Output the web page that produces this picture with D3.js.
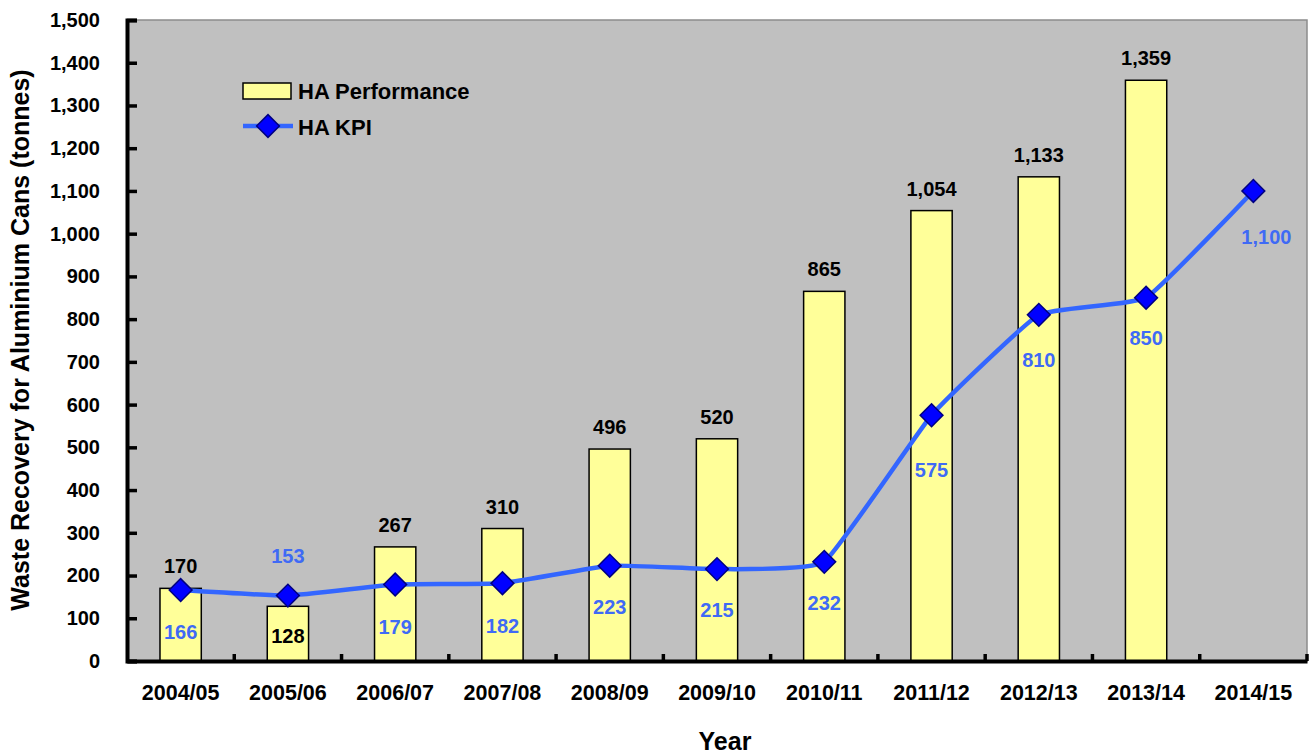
<!DOCTYPE html>
<html><head><meta charset="utf-8">
<script src="https://cdn.jsdelivr.net/npm/d3@7"></script>
<style>body{margin:0;background:#fff;} svg{display:block;font-family:"Liberation Sans",Arial,sans-serif;}</style>
</head><body>
<svg id="c" width="1312" height="754"></svg>
<script>
const years = ["2004/05","2005/06","2006/07","2007/08","2008/09","2009/10","2010/11","2011/12","2012/13","2013/14","2014/15"];
const performance = [170,128,267,310,496,520,865,1054,1133,1359,null];
const kpi = [166,153,179,182,223,215,232,575,810,850,1100];
const yTicks = [0,100,200,300,400,500,600,700,800,900,1000,1100,1200,1300,1400,1500];

const svg = d3.select("#c");
const m = {l:127, r:1307, t:20, b:661};
const x = d3.scaleBand().domain(years).range([m.l, m.r]).padding(0);
const y = d3.scaleLinear().domain([0,1500]).range([m.b, m.t]);
const fmt = d3.format(",");
const blue = "#3366ff";
const blueText = "#3f6af5";

// plot background
svg.append("rect").attr("x",m.l).attr("y",m.t).attr("width",m.r-m.l).attr("height",m.b-m.t)
  .attr("fill","#c0c0c0").attr("stroke","#8c8c8c").attr("stroke-width",1.5);

// bars
const bw = x.bandwidth()*0.385;
svg.append("g").selectAll("rect").data(years.map((d,i)=>({d,v:performance[i]})).filter(o=>o.v!=null))
  .join("rect")
  .attr("x",o=>x(o.d)+x.bandwidth()/2-bw/2).attr("width",bw)
  .attr("y",o=>y(o.v)).attr("height",o=>y(0)-y(o.v))
  .attr("fill","#ffff99").attr("stroke","#000").attr("stroke-width",1.5);

// y axis
const ya = d3.axisLeft(y).tickValues(yTicks).tickFormat(fmt).tickSize(-10).tickPadding(27);
const yg = svg.append("g").attr("transform",`translate(${m.l},0)`).call(ya);
yg.select(".domain").attr("stroke","#000").attr("stroke-width",4);
yg.selectAll(".tick line").attr("stroke","#000").attr("stroke-width",3.5);
yg.selectAll(".tick text").attr("font-size",20).attr("font-weight","bold").attr("fill","#000");

// x axis
const xa = d3.axisBottom(x).tickSize(0).tickPadding(24);
const xg = svg.append("g").attr("transform",`translate(0,${m.b})`).call(xa);
xg.select(".domain").attr("stroke","#000").attr("stroke-width",4);
xg.selectAll(".tick text").attr("font-size",21.5).attr("font-weight","bold").attr("fill","#000");
// boundary ticks (inward)
const bounds = years.map(d=>x(d)+x.bandwidth());
svg.append("g").selectAll("line").data(bounds).join("line")
  .attr("x1",d=>d).attr("x2",d=>d).attr("y1",m.b).attr("y2",m.b-7)
  .attr("stroke","#000").attr("stroke-width",3.5);

// KPI line
const cx = d=>x(d)+x.bandwidth()/2;
const line = d3.line().x((v,i)=>cx(years[i])).y(v=>y(v)).curve(d3.curveCardinal.tension(0.65));
svg.append("path").datum(kpi).attr("d",line).attr("fill","none").attr("stroke",blue).attr("stroke-width",4.5);

const diamond = d3.symbol().type(d3.symbolSquare).size(260);
svg.append("g").selectAll("path").data(kpi).join("path")
  .attr("d",diamond)
  .attr("transform",(v,i)=>`translate(${cx(years[i])},${y(v)}) rotate(45)`)
  .attr("fill","#0000ff").attr("stroke","#000080").attr("stroke-width",1.5);

// bar labels
const barLabelDy = {"2005/06": 52};
svg.append("g").selectAll("text").data(years.map((d,i)=>({d,v:performance[i]})).filter(o=>o.v!=null))
  .join("text")
  .attr("x",o=>cx(o.d)).attr("y",o=>y(o.v)-15+(barLabelDy[o.d]||0))
  .attr("text-anchor","middle").attr("font-size",20).attr("font-weight","bold").attr("fill","#000")
  .text(o=>fmt(o.v));

// KPI labels
const kpiDy = [49,-33,49,50,48,48,48,62,52,47,53];
const kpiDx = [0,0,0,0,0,0,0,0,0,0,13];
svg.append("g").selectAll("text").data(kpi).join("text")
  .attr("x",(v,i)=>cx(years[i])+kpiDx[i]).attr("y",(v,i)=>y(v)+kpiDy[i])
  .attr("text-anchor","middle").attr("font-size",20).attr("font-weight","bold").attr("fill",blueText)
  .text(v=>fmt(v));

// legend
const lg = svg.append("g");
lg.append("rect").attr("x",243).attr("y",83).attr("width",48).attr("height",16)
  .attr("fill","#ffff99").attr("stroke","#000").attr("stroke-width",1.5);
lg.append("text").attr("x",298).attr("y",99).attr("font-size",22).attr("font-weight","bold").text("HA Performance");
lg.append("line").attr("x1",243).attr("x2",293).attr("y1",126).attr("y2",126).attr("stroke",blue).attr("stroke-width",4.5);
lg.append("path").attr("d",diamond).attr("transform","translate(268,126) rotate(45)")
  .attr("fill","#0000ff").attr("stroke","#000080").attr("stroke-width",1.5);
lg.append("text").attr("x",298).attr("y",135).attr("font-size",22).attr("font-weight","bold").text("HA KPI");

// axis titles
svg.append("text").attr("x",725).attr("y",750).attr("text-anchor","middle")
  .attr("font-size",25).attr("font-weight","bold").text("Year");
svg.append("text").attr("transform","translate(29,340) rotate(-90)").attr("text-anchor","middle")
  .attr("font-size",25).attr("font-weight","bold").text("Waste Recovery for Aluminium Cans (tonnes)");
</script>
</body></html>
